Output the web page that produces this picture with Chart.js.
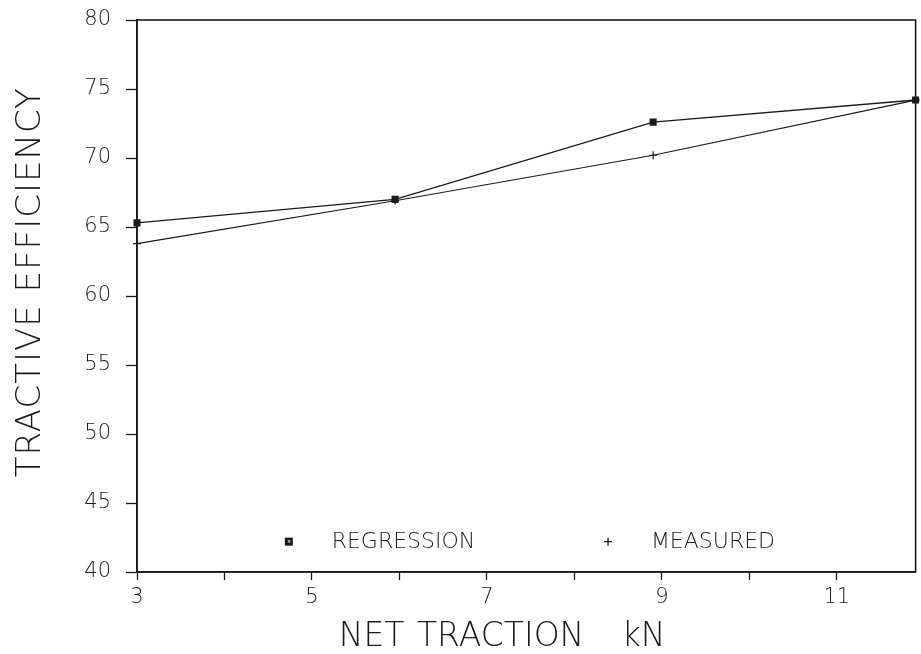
<!DOCTYPE html>
<html>
<head>
<meta charset="utf-8">
<script src="https://cdn.jsdelivr.net/npm/chart.js@4.4.1/dist/chart.umd.min.js"></script>
<style>
  html, body { margin: 0; padding: 0; background: #fff; }
  #wrap { width: 921px; height: 654px; }
</style>
</head>
<body>
<div id="wrap"><canvas id="c" width="921" height="654"></canvas></div>
<script>
// Net traction (kN) at each test level
const netTraction = [3, 5.95, 8.9, 11.9];
// Tractive efficiency (%)
const regression = [65.3, 67.0, 72.6, 74.2];
const measured   = [63.8, 66.9, 70.2, 74.2];
const seriesNames = ['REGRESSION', 'MEASURED'];
const xTitle = 'NET TRACTION   kN';
const yTitle = 'TRACTIVE EFFICIENCY';
const xRange = [3, 11.9];
const yRange = [40, 80];

const ink = '#1a1a1a';
const FONT = "'DejaVu Sans', sans-serif";

const toPoints = (xs, ys) => xs.map((x, i) => ({ x: x, y: ys[i] }));

// Frame around the plotting area (top and right sides included)
const framePlugin = {
  id: 'frame',
  afterDatasetsDraw(chart) {
    const { ctx, chartArea: a } = chart;
    ctx.save();
    ctx.strokeStyle = ink;
    ctx.lineWidth = 1.6;
    ctx.strokeRect(a.left, a.top, a.right - a.left, a.bottom - a.top);
    ctx.restore();
  }
};

// Axis titles, letter-spaced like a pen-plotter lettering
const titlePlugin = {
  id: 'axisTitles',
  afterDraw(chart) {
    const { ctx, chartArea: a } = chart;
    const w = a.right - a.left, h = a.bottom - a.top;
    ctx.save();
    ctx.fillStyle = ink;
    ctx.textAlign = 'center';
    ctx.textBaseline = 'middle';

    ctx.font = '200 33px ' + FONT;
    ctx.letterSpacing = '0px';
    ctx.wordSpacing = '2px';
    ctx.fillText(xTitle, a.left + w * 0.469, chart.height - 17);

    ctx.font = '200 34px ' + FONT;
    ctx.letterSpacing = '1px';
    ctx.wordSpacing = '0px';
    ctx.translate(31, a.top + h * 0.475);
    ctx.rotate(-Math.PI / 2);
    ctx.fillText(yTitle, 0, 0);
    ctx.restore();
  }
};

// Key drawn inside the plot, just above the x axis
const keyPlugin = {
  id: 'key',
  afterDatasetsDraw(chart) {
    const { ctx, chartArea: a } = chart;
    const w = a.right - a.left, h = a.bottom - a.top;
    const y = a.bottom - h * 0.055;
    const slots = [
      { mx: a.left + w * 0.195, tx: a.left + w * 0.25 },
      { mx: a.left + w * 0.605, tx: a.left + w * 0.66 }
    ];
    ctx.save();
    ctx.font = '200 22px ' + FONT;
    ctx.textBaseline = 'middle';
    chart.data.datasets.forEach((ds, i) => {
      const s = slots[i];
      ctx.strokeStyle = ink;
      ctx.fillStyle = ink;
      if (ds.pointStyle === 'rect') {
        ctx.fillRect(s.mx - 4, y - 4, 8, 8);
        ctx.fillStyle = '#aaa';
        ctx.fillRect(s.mx - 1, y - 1.5, 2.5, 2.5);
        ctx.fillStyle = ink;
      } else {
        ctx.lineWidth = 1.3;
        ctx.beginPath();
        ctx.moveTo(s.mx - 4, y); ctx.lineTo(s.mx + 4, y);
        ctx.moveTo(s.mx, y - 4); ctx.lineTo(s.mx, y + 4);
        ctx.stroke();
      }
      ctx.fillText(ds.label, s.tx, y + 1);
    });
    ctx.restore();
  }
};

new Chart(document.getElementById('c'), {
  type: 'scatter',
  data: {
    datasets: [
      {
        label: seriesNames[0],
        data: toPoints(netTraction, regression),
        showLine: true,
        borderColor: ink,
        borderWidth: 1.4,
        pointStyle: 'rect',
        pointRadius: 4,
        pointBackgroundColor: ink,
        pointBorderColor: ink,
        tension: 0
      },
      {
        label: seriesNames[1],
        data: toPoints(netTraction, measured),
        showLine: true,
        borderColor: ink,
        borderWidth: 1.2,
        pointStyle: 'cross',
        pointRadius: 4,
        pointBorderWidth: 1.2,
        pointBorderColor: ink,
        tension: 0
      }
    ]
  },
  options: {
    responsive: false,
    animation: false,
    clip: false,
    layout: { padding: { left: 0, right: 3, top: 20, bottom: 0 } },
    plugins: { legend: { display: false }, tooltip: { enabled: false } },
    scales: {
      x: {
        type: 'linear',
        min: xRange[0],
        max: xRange[1],
        afterFit(scale) {
          scale.height = 82;
          scale.paddingLeft = 0;
          scale.paddingRight = 0;
        },
        afterBuildTicks(scale) {
          const t = [];
          for (let v = Math.ceil(xRange[0]); v <= xRange[1]; v++) t.push({ value: v });
          scale.ticks = t;
        },
        ticks: {
          color: ink,
          font: { family: FONT, size: 21, weight: '200' },
          padding: 5,
          maxRotation: 0,
          autoSkip: false,
          callback: (v) => (v % 2 === 1 ? String(v) : '')
        },
        grid: { drawOnChartArea: false, color: ink, tickLength: 8, tickWidth: 1.3 },
        border: { color: ink, width: 1.6 },
        title: { display: false }
      },
      y: {
        type: 'linear',
        min: yRange[0],
        max: yRange[1],
        afterFit(scale) {
          scale.width = 137;
          scale.paddingTop = 0;
          scale.paddingBottom = 0;
        },
        ticks: {
          stepSize: 5,
          color: ink,
          font: { family: FONT, size: 21, weight: '200' },
          padding: 15
        },
        grid: { drawOnChartArea: false, color: ink, tickLength: 11, tickWidth: 1.3 },
        border: { color: ink, width: 1.6 },
        title: { display: false }
      }
    }
  },
  plugins: [framePlugin, keyPlugin, titlePlugin]
});
</script>
</body>
</html>
